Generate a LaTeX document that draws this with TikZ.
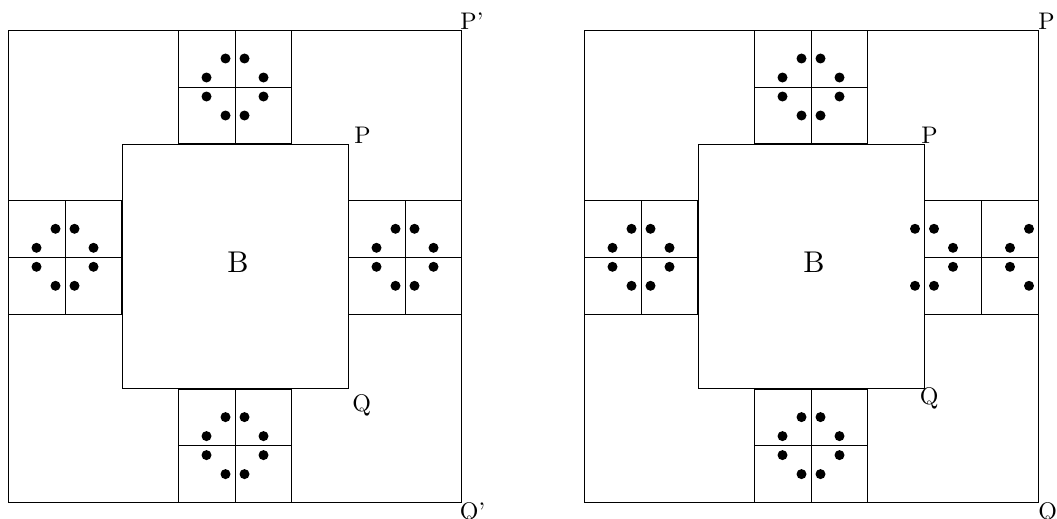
\documentclass[tikz,border=0pt]{standalone}
\usepackage{tikz}

\begin{document}
\begin{tikzpicture}[x=1pt, y=-1pt, line width=0.8pt,
  blob/.style={fill=black},
  lbl/.style={anchor=base west, inner sep=0pt},
  big/.style={anchor=base west, inner sep=0pt}]
\useasboundingbox (0,0) rectangle (1057,519);
% left picture: outer box and B
\draw (8.5,30) rectangle (461.5,502.5);
\draw (122,144) rectangle (348,388.5);
% four split squares with their dots
\foreach \cx/\cy in {235/87, 65/257.3, 405/257.3, 235/445.6} {
  \draw (\cx-56.7,\cy-56.7) rectangle (\cx+56.7,\cy+56.7);
  \draw (\cx,\cy-56.7) -- (\cx,\cy+56.7);
  \draw (\cx-56.7,\cy) -- (\cx+56.7,\cy);
  \foreach \dx/\dy in {-9.5/-28.5, 9.5/-28.5, -28.5/-9.5, 28.5/-9.5, -28.5/9.5, 28.5/9.5, -9.5/28.5, 9.5/28.5}
    \fill[blob] (\cx+\dx,\cy+\dy) circle (5pt);
}
\node[big] (bl) at (227,272.3) {\scalebox{3}{B}};
\node[lbl] (pl) at (354,143) {\scalebox{2.4}{P}};
\node[lbl] (ql) at (352,411.5) {\scalebox{2.4}{Q}};
\node[lbl] (ppl) at (460,29.3) {\scalebox{2.4}{P'}};
\node[lbl] (qql) at (459.5,519.5) {\scalebox{2.4}{Q'}};
% right picture: outer box and B
\draw (584.5,30) rectangle (1038,502.5);
\draw (698,144) rectangle (924.3,388.5);
\foreach \cx/\cy in {811/87, 641/257.3, 811/445.6} {
  \draw (\cx-56.7,\cy-56.7) rectangle (\cx+56.7,\cy+56.7);
  \draw (\cx,\cy-56.7) -- (\cx,\cy+56.7);
  \draw (\cx-56.7,\cy) -- (\cx+56.7,\cy);
  \foreach \dx/\dy in {-9.5/-28.5, 9.5/-28.5, -28.5/-9.5, 28.5/-9.5, -28.5/9.5, 28.5/9.5, -9.5/28.5, 9.5/28.5}
    \fill[blob] (\cx+\dx,\cy+\dy) circle (5pt);
}
% the shifted pair of squares on the right
\draw (924.3,200.6) rectangle (1038,314);
\draw (981.5,200.6) -- (981.5,314);
\draw (924.3,257.3) -- (1038,257.3);
\foreach \x/\y in {915/228.8, 934/228.8, 953/247.8, 953/266.8, 915/285.8, 934/285.8,
                   1029/228.8, 1010/247.8, 1010/266.8, 1029/285.8}
  \fill[blob] (\x,\y) circle (5pt);
\node[big] (br) at (803,272.3) {\scalebox{3}{B}};
\node[lbl] (pr) at (921,143) {\scalebox{2.4}{P}};
\node[lbl] (qr) at (919.5,404.5) {\scalebox{2.4}{Q}};
\node[lbl] (ppr) at (1038,29.3) {\scalebox{2.4}{P}};
\node[lbl] (qqr) at (1038,519.5) {\scalebox{2.4}{Q}};
\end{tikzpicture}
\end{document}
